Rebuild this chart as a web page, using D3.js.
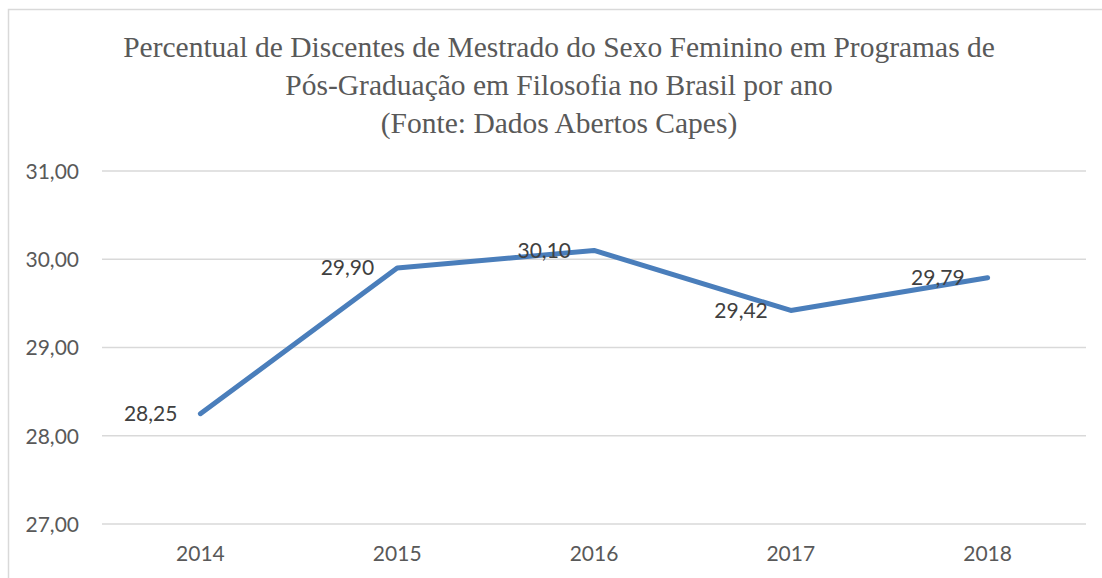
<!DOCTYPE html>
<html><head><meta charset="utf-8">
<script src="https://cdn.jsdelivr.net/npm/d3@7"></script>
<style>html,body{margin:0;padding:0;background:#fff;}svg{display:block;}</style>
</head><body>
<svg id="c" width="1102" height="578"></svg>
<script>
const years = ["2014","2015","2016","2017","2018"];
const values = [28.25, 29.90, 30.10, 29.42, 29.79];
const yTicks = [27, 28, 29, 30, 31];
const titleLines = [
  "Percentual de Discentes de Mestrado do Sexo Feminino em Programas de",
  "Pós-Graduação em Filosofia no Brasil por ano",
  "(Fonte: Dados Abertos Capes)"
];
const fmt = v => v.toFixed(2).replace(".", ",");

(function () {
const svg = d3.select("#c");
const pl = 102, pr = 1086, pt = 171, pb = 524;

// chart border
svg.append("rect").attr("x", 8.5).attr("y", 9.5).attr("width", 1110).attr("height", 600)
  .attr("fill", "#fff").attr("stroke", "#d9d9d9").attr("stroke-width", 1.5);

const x = d3.scaleBand().domain(years).range([pl, pr]);
const y = d3.scaleLinear().domain([27, 31]).range([pb, pt]);

// gridlines
svg.append("g").selectAll("line").data(yTicks).join("line")
  .attr("x1", pl).attr("x2", pr)
  .attr("y1", d => y(d)).attr("y2", d => y(d))
  .attr("stroke", "#d9d9d9").attr("stroke-width", 1.5);

const font = "Lato, 'Open Sans', sans-serif";
const fs = 21;

// y axis
const yAxis = svg.append("g").attr("transform", `translate(${79},0)`)
  .call(d3.axisLeft(y).tickValues(yTicks).tickFormat(fmt).tickSize(0).tickPadding(0));
yAxis.select(".domain").remove();
yAxis.selectAll("text").attr("font-family", font).attr("font-size", fs).attr("fill", "#595959").attr("dy", "0.35em");

// x axis
const xAxis = svg.append("g").attr("transform", `translate(0,${pb})`)
  .call(d3.axisBottom(x).tickSize(0).tickPadding(0));
xAxis.select(".domain").remove();
xAxis.selectAll("text").attr("font-family", font).attr("font-size", fs).attr("fill", "#595959")
  .attr("y", 30).attr("dy", "0.35em");

// line
const cx = d => x(d) + x.bandwidth() / 2;
const data = years.map((yr, i) => ({yr, v: values[i]}));
svg.append("path").datum(data)
  .attr("d", d3.line().x(d => cx(d.yr)).y(d => y(d.v)))
  .attr("fill", "none").attr("stroke", "#4a7ebb").attr("stroke-width", 5)
  .attr("stroke-linecap", "round").attr("stroke-linejoin", "round");

// data labels
svg.append("g").selectAll("text").data(data).join("text")
  .attr("x", d => cx(d.yr) - 23).attr("y", d => y(d.v)).attr("dy", "0.35em")
  .attr("text-anchor", "end").attr("font-family", font).attr("font-size", fs)
  .attr("fill", "#404040").text(d => fmt(d.v));

// title
svg.append("g").selectAll("text").data(titleLines).join("text")
  .attr("x", 559).attr("y", (d, i) => 57 + i * 38)
  .attr("text-anchor", "middle").attr("font-family", "'Liberation Serif', 'DejaVu Serif', serif")
  .attr("font-size", 29.5).attr("fill", "#595959").text(d => d);
})();
</script>
</body></html>
